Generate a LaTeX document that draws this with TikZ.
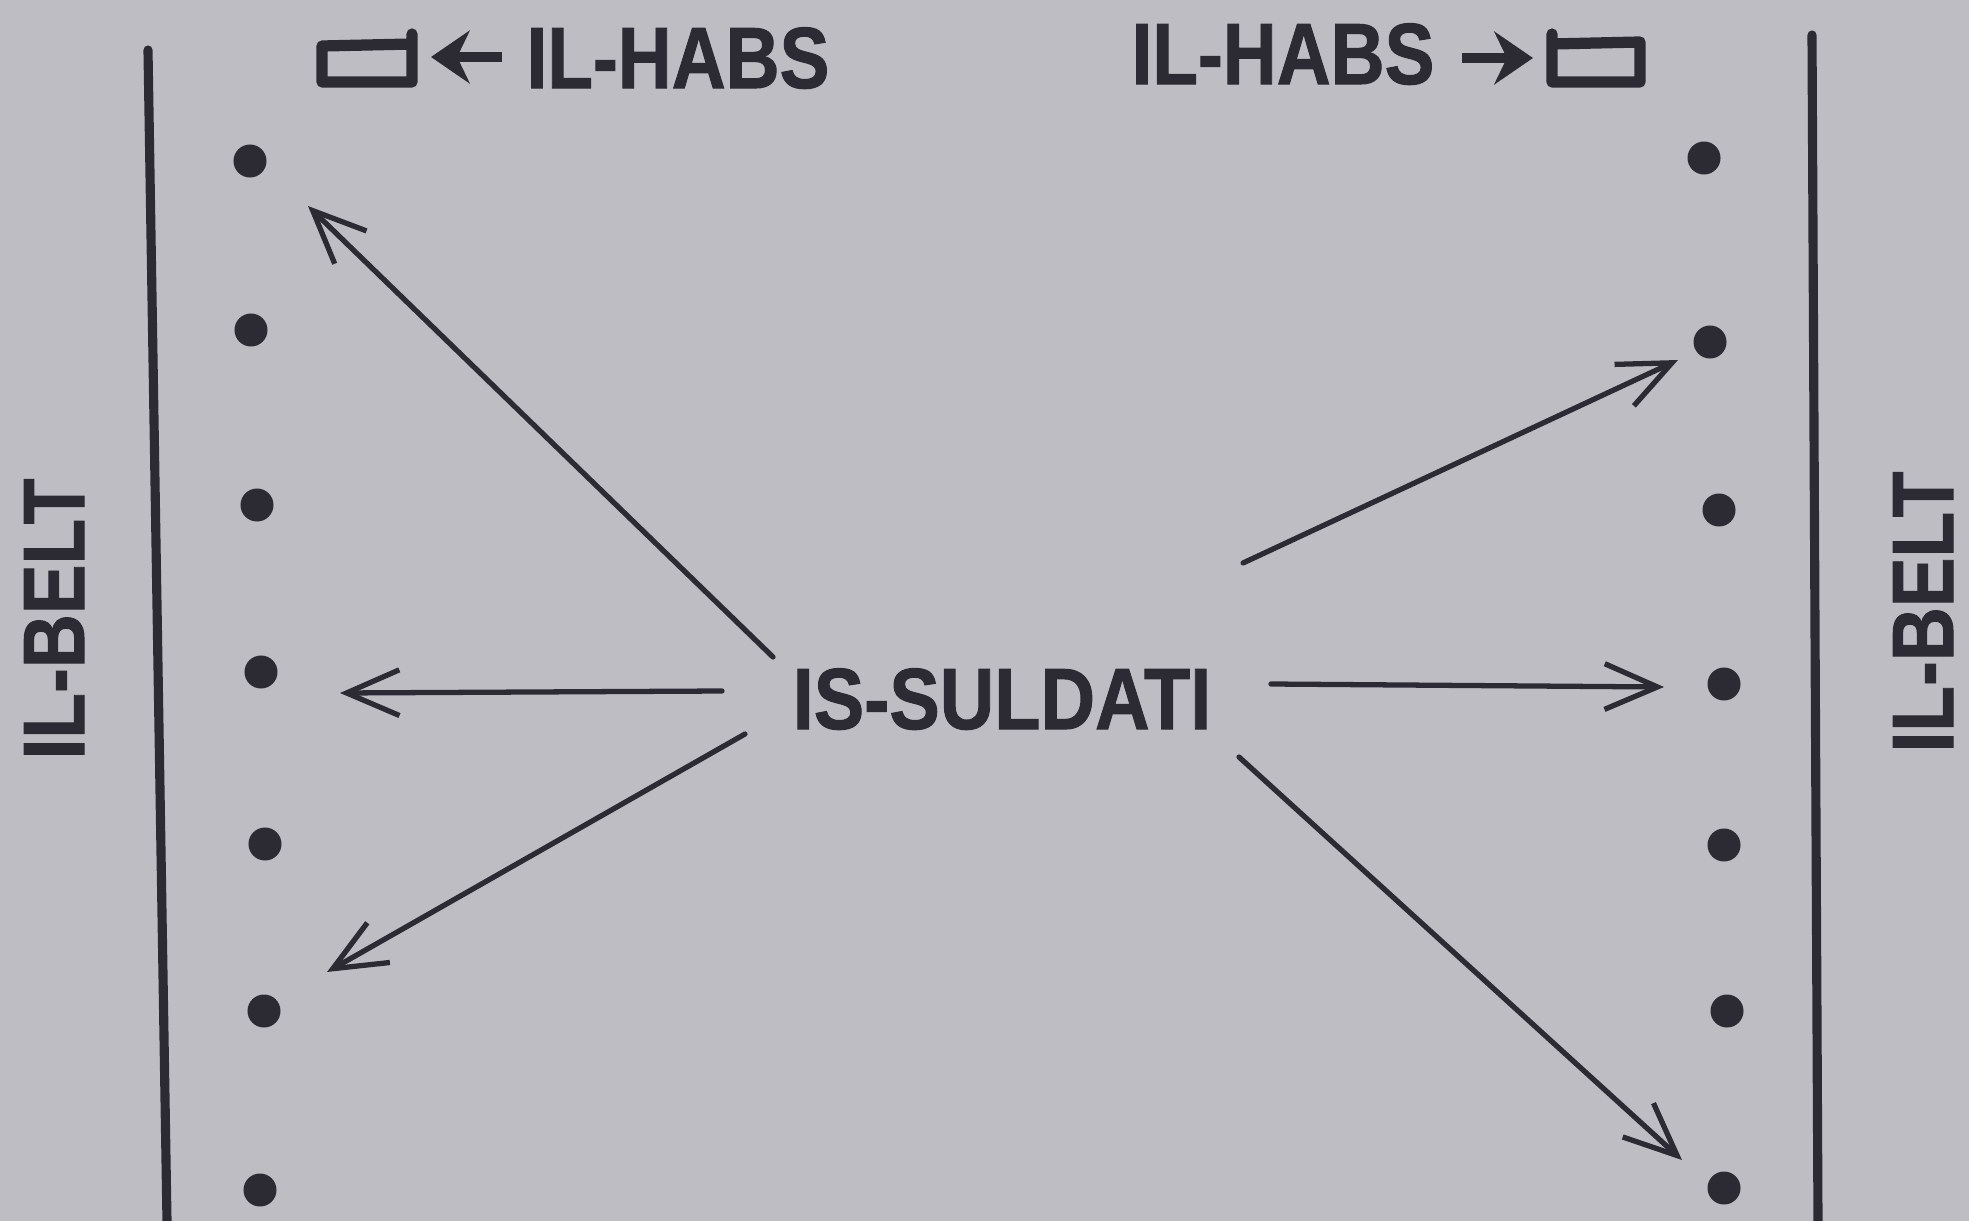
\documentclass[tikz,border=0pt]{standalone}
\usepackage{fontspec}
\setmainfont{Liberation Sans}[BoldFeatures={FakeBold=1.2}]
\usetikzlibrary{arrows.meta}
\definecolor{paper}{RGB}{191,189,196}
\definecolor{ink}{RGB}{44,43,52}
\begin{document}
\begin{tikzpicture}[x=0.01cm,y=-0.01cm,
  lbl/.style={text=ink,inner sep=0pt,anchor=base,font=\fontsize{24.7pt}{26pt}\selectfont\bfseries},
  dot/.style={circle,fill=ink,inner sep=0pt,minimum size=0.33cm},
  belt/.style={draw=ink,line width=2.6pt,line cap=round},
  conn/.style={draw=ink,line width=1.5pt,line cap=round,-{Straight Barb[length=15pt,width=13pt,line width=1.5pt]}},
  sym/.style={draw=ink,line width=3.2pt,line cap=round,line join=round},
  symarrow/.style={draw=ink,line width=2.8pt,-{Stealth[length=11pt,width=15pt]}}]
\fill[paper] (0,0) rectangle (1969,1221);
\useasboundingbox (0,0) rectangle (1969,1221);
% belts
\coordinate (lt) at (148,50);
\coordinate (lb) at (167,1221);
\coordinate (rt) at (1812,35);
\coordinate (rb) at (1818,1221);
\draw[belt] (lt) -- (lb);
\draw[belt] (rt) -- (rb);
\node[lbl,rotate=90] (beltL) at (84,619) {\scalebox{0.86}[1]{IL-BELT}};
\node[lbl,rotate=90] (beltR) at (1953,612) {\scalebox{0.86}[1]{IL-BELT}};
% top labels
\node[lbl] (habsL) at (678,88) {\scalebox{0.86}[1]{IL-HABS}};
\node[lbl] (habsR) at (1283,84) {\scalebox{0.86}[1]{IL-HABS}};
\draw[sym] (412,34) -- (412,82) -- (322,82) -- (322,46) -- (412,44);
\coordinate (saL1) at (502,57);
\coordinate (saL2) at (431,57);
\draw[symarrow] (saL1) -- (saL2);
\coordinate (saR1) at (1462,58);
\coordinate (saR2) at (1533,58);
\draw[symarrow] (saR1) -- (saR2);
\draw[sym] (1552,34) -- (1552,82) -- (1640,82) -- (1640,42) -- (1552,44);
% dots
\node[dot] (l1) at (250,161) {};
\node[dot] (l2) at (251,330) {};
\node[dot] (l3) at (257,505) {};
\node[dot] (l4) at (261,672) {};
\node[dot] (l5) at (265,844) {};
\node[dot] (l6) at (264,1011) {};
\node[dot] (l7) at (260,1190) {};
\node[dot] (r1) at (1704,158) {};
\node[dot] (r2) at (1710,342) {};
\node[dot] (r3) at (1719,510) {};
\node[dot] (r4) at (1724,684) {};
\node[dot] (r5) at (1724,845) {};
\node[dot] (r6) at (1727,1011) {};
\node[dot] (r7) at (1724,1188) {};
% centre
\node[lbl] (sold) at (1002,729) {\scalebox{0.87}[1]{IS-SULDATI}};
% connectors
\coordinate (s1) at (773,657);
\coordinate (e1) at (308,206);
\coordinate (s2) at (722,691);
\coordinate (e2) at (340,693);
\coordinate (s3) at (745,734);
\coordinate (e3) at (327,972);
\coordinate (s4) at (1243,563);
\coordinate (e4) at (1678,360);
\coordinate (s5) at (1271,684);
\coordinate (e5) at (1664,687);
\coordinate (s6) at (1239,757);
\coordinate (e6) at (1682,1160);
\draw[conn] (s1) -- (e1);
\draw[conn] (s2) -- (e2);
\draw[conn] (s3) -- (e3);
\draw[conn] (s4) -- (e4);
\draw[conn] (s5) -- (e5);
\draw[conn] (s6) -- (e6);
\end{tikzpicture}
\end{document}
